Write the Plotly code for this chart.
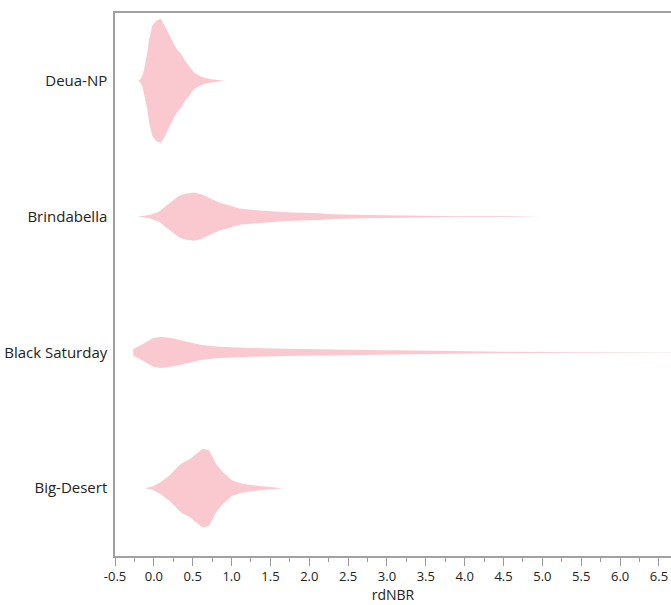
import plotly.graph_objects as go

# Categories (top to bottom)
categories = ["Deua-NP", "Brindabella", "Black Saturday", "Big-Desert"]

# Density profiles: rdNBR value and half-width (pixels at 135.5 px per category)
deua_x = [-0.20, -0.175, -0.15, -0.124, -0.085, -0.06, -0.02, 0.03, 0.09, 0.15, 0.20, 0.26, 0.31, 0.35, 0.40, 0.46, 0.52, 0.585, 0.65, 0.74, 0.84, 0.93]
deua_w = [0, 1.5, 5, 12, 28, 42, 55, 60, 62, 54, 46, 36, 30, 27, 20, 14, 8, 5, 3, 1.5, 0.7, 0]

brin_x = [-0.21, -0.14, -0.06, 0.005, 0.07, 0.13, 0.20, 0.26, 0.33, 0.42, 0.52, 0.62, 0.75, 0.84, 0.93, 1.10, 1.36, 1.71, 2.13, 2.30, 2.74, 3.16, 3.46, 3.93, 4.45, 4.97, 5.0]
brin_w = [0, 0.7, 1.7, 3, 5, 9, 13, 17, 21, 23, 24, 22, 17, 14, 12, 8, 6, 4.3, 3.3, 2.3, 1.5, 1.0, 0.7, 0.45, 0.35, 0.2, 0]

blsat_x = [-0.266, -0.265, -0.145, -0.017, 0.09, 0.24, 0.42, 0.62, 0.84, 1.27, 1.71, 2.13, 2.74, 3.59, 4.10, 4.54, 5.22, 6.0, 6.7]
blsat_w = [0, 3.3, 8, 14, 15.7, 14, 10.7, 7.3, 5.7, 4.3, 3.7, 3.0, 2.3, 1.7, 1.0, 0.6, 0.4, 0.3, 0.25]

bigd_x = [-0.12, -0.017, 0.09, 0.20, 0.26, 0.35, 0.46, 0.54, 0.63, 0.71, 0.80, 0.885, 1.01, 1.14, 1.36, 1.66]
bigd_w = [0, 1.7, 6, 12.7, 17.7, 24.3, 28.7, 34, 39.3, 37.7, 24.3, 16, 7.7, 4.3, 2, 0]

profiles = [(deua_x, deua_w), (brin_x, brin_w), (blsat_x, blsat_w), (bigd_x, bigd_w)]

x_ticks = [-0.5, 0.0, 0.5, 1.0, 1.5, 2.0, 2.5, 3.0, 3.5, 4.0, 4.5, 5.0, 5.5, 6.0, 6.5]
x_tick_labels = ["-0.5", "0.0", "0.5", "1.0", "1.5", "2.0", "2.5", "3.0", "3.5", "4.0", "4.5", "5.0", "5.5", "6.0", "6.5"]

PX_PER_CAT = 135.5
FILL = "#F9C9CF"

fig = go.Figure()
for i, (xs, ws) in enumerate(profiles):
    half = [w / PX_PER_CAT for w in ws]
    px = list(xs) + list(xs[::-1])
    py = [i - h for h in half] + [i + h for h in half[::-1]]
    fig.add_trace(go.Scatter(
        x=px, y=py, mode="lines", fill="toself",
        fillcolor=FILL, line=dict(width=0, color=FILL),
        hoverinfo="skip", showlegend=False,
    ))

fig.update_layout(
    width=671, height=605,
    margin=dict(l=115, r=0, t=13, b=49),
    plot_bgcolor="white", paper_bgcolor="white",
    font=dict(family="Open Sans, Noto Sans, sans-serif", size=13, color="#222"),
    showlegend=False,
)
fig.update_xaxes(
    range=[-0.5, 6.655],
    tickvals=x_ticks, ticktext=x_tick_labels,
    ticks="outside", ticklen=8, tickcolor="#9a9a9a",
    minor=dict(dtick=0.25, tick0=0, ticks="outside", ticklen=4, tickcolor="#9a9a9a"),
    showline=True, linecolor="#a0a0a0", linewidth=1.5, mirror=True,
    showgrid=False, zeroline=False,
    title=dict(text="rdNBR", standoff=2, font=dict(size=14)),
    tickfont=dict(size=13),
)
fig.update_yaxes(
    range=[3.5, -0.5],
    tickvals=[0, 1, 2, 3], ticktext=categories,
    ticks="", showline=True, linecolor="#a0a0a0", linewidth=1.5,
    showgrid=False, zeroline=False, ticklabelstandoff=3,
    tickfont=dict(size=15),
)

fig.write_html(
    "out.html",
    config={"displayModeBar": False},
    post_script="document.body.style.margin='0';document.body.style.overflow='hidden';",
)
